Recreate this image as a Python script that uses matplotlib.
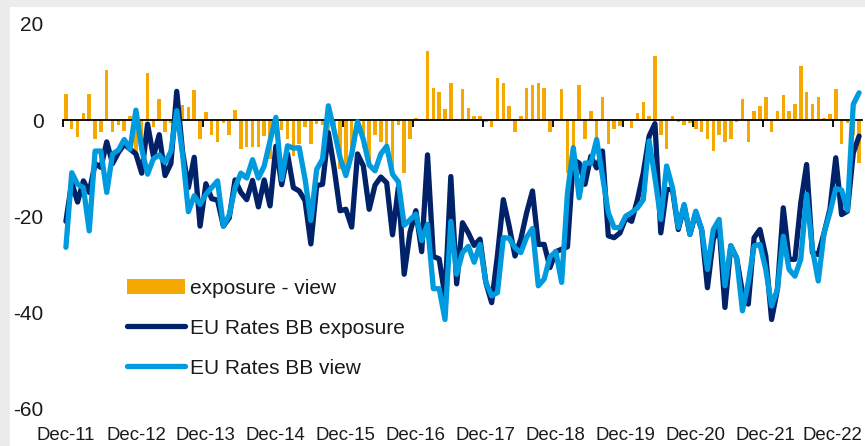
import matplotlib
matplotlib.use("Agg")
import matplotlib.pyplot as plt
from matplotlib.patches import Rectangle

plt.rcParams['font.family'] = ['Liberation Sans', 'DejaVu Sans']
plt.rcParams['axes.unicode_minus'] = False

# monthly values, Dec-11 .. Apr-23
exposure_minus_view = [
    5.4, -1.9, -3.4, 1.5, 5.4, -3.9, -2.4, 10.4, -2.4, -0.9, -2.2, 0.9,
    -7.5, -5.0, 9.8, -1.5, 4.4, -2.5, -0.5, 0.5, 3.2, 2.7, 6.3, -4.0,
    1.7, -3.0, -4.5, -0.5, -3.0, 2.2, -6.0, -5.6, -5.6, -5.6, -3.2, -8.0,
    -1.0, -2.0, -4.0, -7.5, -5.0, -1.5, -5.0, -0.8, -1.0, -3.0, -2.0, -10.2,
    -9.8, -5.7, -1.5, -5.7, -9.0, -3.0, -4.5, -5.5, -11.0, -1.0, -10.9, -3.8,
    0.5, 0.2, 14.4, 6.8, 5.8, 2.4, 7.8, 0.3, 6.4, 2.5, 0.9, 0.9,
    -0.4, -1.5, 8.8, 7.7, 2.9, -2.5, 0.9, 6.8, 7.3, 7.7, 6.8, -2.5,
    0.2, 6.4, -10.9, -10.0, 7.4, -4.0, 1.9, -4.0, 4.8, -5.0, -1.9, -1.1,
    -0.2, -1.6, 1.5, 3.8, 0.9, 13.4, -3.0, -6.0, 0.8, -0.3, -1.0, -0.5,
    -1.9, -2.5, -4.0, -6.4, -3.0, -4.5, -4.0, -0.3, 4.4, -4.5, 1.9, 2.9,
    4.9, -2.5, 1.9, 5.3, 1.9, 3.4, 11.3, 5.8, 3.4, 4.8, 0.5, 1.4,
    6.4, -5.0, -0.5, -3.0, -8.8,
]

bb_exposure = [
    -21.0, -12.9, -17.0, -12.6, -15.0, -9.0, -9.8, -4.5, -9.0, -6.7, -5.0, -6.0,
    -7.0, -11.0, -0.8, -7.5, -3.0, -11.5, -9.0, 6.0, -6.5, -14.0, -7.7, -22.0,
    -13.2, -16.3, -16.6, -22.0, -20.3, -12.4, -15.0, -16.5, -12.5, -18.0, -12.4, -17.8,
    -5.4, -13.4, -7.0, -14.0, -14.7, -16.7, -25.7, -13.6, -13.3, -2.6, -10.0, -18.8,
    -18.5, -22.2, -7.0, -9.5, -18.5, -13.5, -11.8, -13.0, -23.8, -14.0, -32.0, -23.3,
    -18.8, -27.3, -7.2, -28.3, -28.8, -36.6, -11.7, -34.0, -21.3, -23.4, -26.0, -24.7,
    -33.7, -37.9, -28.0, -16.5, -22.0, -28.2, -24.7, -19.2, -14.7, -25.8, -25.8, -30.6,
    -27.3, -26.8, -26.3, -8.2, -8.9, -13.3, -7.5, -9.9, -6.4, -24.0, -24.4, -23.4,
    -20.3, -21.0, -16.5, -10.9, -3.3, -0.7, -23.4, -14.4, -14.4, -22.7, -17.8, -23.7,
    -19.2, -22.7, -34.8, -24.8, -22.0, -38.9, -26.1, -28.6, -35.8, -38.2, -24.4, -22.7,
    -28.2, -41.4, -35.1, -18.2, -28.9, -28.9, -17.2, -9.2, -27.5, -27.9, -23.4, -18.5,
    -7.8, -19.6, -18.9, -6.8, -3.3,
]

bb_view = [
    -26.4, -10.9, -13.3, -14.0, -23.0, -6.4, -6.4, -15.0, -7.0, -6.2, -4.0, -6.0,
    2.1, -6.0, -11.2, -8.0, -7.2, -8.8, -6.5, 2.0, -7.0, -19.0, -15.7, -17.5,
    -15.4, -14.0, -12.6, -22.0, -19.7, -14.0, -11.0, -12.0, -8.2, -12.0, -9.5, -4.3,
    0.6, -12.3, -5.3, -5.8, -5.7, -12.2, -20.8, -10.2, -8.1, 3.0, -2.2, -7.7,
    -11.5, -7.0, -0.3, -4.0, -9.3, -10.5, -7.0, -5.4, -11.2, -12.8, -21.8, -20.7,
    -19.5, -25.0, -21.6, -35.0, -35.0, -41.4, -21.0, -32.0, -27.5, -26.2, -29.5, -25.8,
    -33.7, -36.5, -35.8, -24.4, -24.5, -26.5, -27.5, -24.3, -22.5, -34.4, -33.0, -28.4,
    -27.3, -33.7, -15.1, -5.7, -16.1, -8.9, -8.9, -4.0, -11.6, -19.2, -22.3, -22.3,
    -19.9, -19.2, -18.2, -16.5, -4.3, -12.0, -20.6, -9.5, -14.0, -22.3, -17.5, -23.7,
    -18.9, -22.7, -31.0, -22.7, -20.6, -34.4, -26.1, -28.6, -39.6, -33.7, -26.1, -25.8,
    -31.0, -38.6, -35.1, -24.1, -31.0, -32.4, -28.9, -15.4, -26.8, -33.4, -23.4, -19.2,
    -14.2, -14.5, -18.7, 3.3, 5.7,
]

year_labels = ['Dec-11', 'Dec-12', 'Dec-13', 'Dec-14', 'Dec-15', 'Dec-16',
               'Dec-17', 'Dec-18', 'Dec-19', 'Dec-20', 'Dec-21', 'Dec-22']

orange = '#F5A800'
navy = '#012169'
blue = '#009ADE'
txt = '#1a1a1a'

fig = plt.figure(figsize=(8.65, 4.46), dpi=100, facecolor='#ececec')
fig.patches.append(Rectangle((10 / 865, 0), 1, 439 / 446, transform=fig.transFigure,
                             facecolor='white', edgecolor='none', zorder=-10))
ax = fig.add_axes([63 / 865, 37 / 446, 799 / 865, 385 / 446])
ax.set_facecolor('none')

x = list(range(len(bb_view)))
bars = ax.bar(x, exposure_minus_view, width=0.6, color=orange, zorder=1,
              label='exposure - view')
l1, = ax.plot(x, bb_exposure, color=navy, lw=3.8, zorder=3, label='EU Rates BB exposure',
              solid_joinstyle='round', solid_capstyle='round')
l2, = ax.plot(x, bb_view, color=blue, lw=3.8, zorder=4, label='EU Rates BB view',
              solid_joinstyle='round', solid_capstyle='round')

ax.set_xlim(-0.5, len(x) - 0.5)
ax.set_ylim(-60, 20)
ax.set_yticks([20, 0, -20, -40, -60])
ax.tick_params(axis='y', length=0, pad=14, labelsize=15, labelcolor=txt)

for s in ['top', 'right', 'left']:
    ax.spines[s].set_visible(False)
ax.spines['bottom'].set_position(('data', 0))
ax.spines['bottom'].set_linewidth(1.3)
ax.spines['bottom'].set_zorder(2)
ax.set_xticks([12 * k - 0.5 for k in range(len(year_labels))])
ax.tick_params(axis='x', direction='out', length=5, width=1.3, labelbottom=False)

for k, lab in enumerate(year_labels):
    ax.text(12 * k - (0.6 if k == len(year_labels) - 1 else 0), -0.07, lab,
            transform=ax.get_xaxis_transform(), ha='center', va='center',
            fontsize=13.4, color=txt)

ax.legend([bars, l1, l2], ['exposure - view', 'EU Rates BB exposure', 'EU Rates BB view'],
          loc='upper left', bbox_to_anchor=(0.067, 0.365), frameon=False,
          fontsize=15, handlelength=2.8, handletextpad=0.25, labelspacing=1.0,
          borderpad=0, labelcolor=txt)

fig.savefig('out.png', dpi=100, facecolor=fig.get_facecolor())
